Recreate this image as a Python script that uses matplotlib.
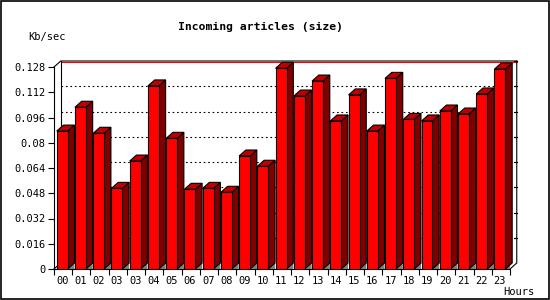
import numpy as np
import matplotlib
matplotlib.use("Agg")
from matplotlib import pyplot as plt
from matplotlib.patches import Polygon, Rectangle

hours = ["00", "01", "02", "03", "03", "04", "05", "06", "07", "08", "09", "10",
         "11", "12", "13", "14", "15", "16", "17", "18", "19", "20", "21", "22", "23"]
kbsec = [0.0874, 0.1025, 0.0860, 0.0511, 0.0684, 0.1160, 0.0828, 0.0505, 0.0511,
         0.0486, 0.0716, 0.0651, 0.1272, 0.1096, 0.1191, 0.0938, 0.1103, 0.0874,
         0.1208, 0.0948, 0.0938, 0.1001, 0.0982, 0.1109, 0.1267]
yticks = [0, 0.016, 0.032, 0.048, 0.064, 0.08, 0.096, 0.112, 0.128]
ytick_labels = ["0", "0.016", "0.032", "0.048", "0.064", "0.08", "0.096", "0.112", "0.128"]

mono = "DejaVu Sans Mono"
front, side, top = "#ff0000", "#800000", "#c00000"

fig = plt.figure(figsize=(5.5, 3), dpi=100)
ax = fig.add_axes([54/550, 31/300, 456/550, 202/300])
x = np.arange(len(hours))
xmin, xmax = -0.45, len(hours) - 0.45
ymax = 0.128
w = 0.6
dx, dy = 0.37, 0.0038   # depth of the fake 3d effect, data units

ax.set_xlim(xmin, xmax)
ax.set_ylim(0, ymax)

# back wall grid
for v in yticks[1:-1]:
    ax.plot([xmin + dx, xmax + dx], [v + dy, v + dy], color="black", lw=0.8,
            linestyle=(0, (1.5, 2.5)), clip_on=False, zorder=1)
# back wall frame
ax.plot([xmin + dx, xmax + dx], [ymax + dy - 0.0008, ymax + dy - 0.0008], color="red",
        lw=0.8, clip_on=False, zorder=1)
ax.plot([xmin, xmin + dx, xmax + dx], [ymax, ymax + dy, ymax + dy], color="black",
        lw=0.8, clip_on=False, zorder=1.5)
ax.plot([xmin + dx, xmin + dx], [dy, ymax + dy], color="black", lw=0.8,
        clip_on=False, zorder=1)
ax.plot([xmax, xmax + dx, xmax + dx], [0, dy, ymax + dy], color="black", lw=0.8,
        clip_on=False, zorder=1)
ax.plot([xmin, xmin + dx], [0, dy], color="black", lw=0.8, clip_on=False, zorder=1)
for v in yticks[1:]:
    ax.plot([xmax + dx - 0.15, xmax + dx], [v + dy, v + dy], color="black", lw=0.8,
            clip_on=False, zorder=1)

ax.bar(x, kbsec, width=w, color=front, edgecolor="black", lw=0.8, zorder=3)
for xi, h in zip(x, kbsec):
    r = xi + w / 2
    l = xi - w / 2
    ax.add_patch(Polygon([(r, 0), (r + dx, dy), (r + dx, 0)], closed=True,
                         facecolor="#808080", edgecolor="none", zorder=2))
    ax.add_patch(Polygon([(r, 0), (r + dx, dy), (r + dx, h + dy), (r, h)], closed=True,
                         facecolor=side, edgecolor="black", lw=0.8, zorder=2,
                         clip_on=False))
    ax.add_patch(Polygon([(l, h), (l + dx, h + dy), (r + dx, h + dy), (r, h)], closed=True,
                         facecolor=top, edgecolor="black", lw=0.8, zorder=2,
                         clip_on=False))

for s in ["top", "right"]:
    ax.spines[s].set_visible(False)
for s in ["left", "bottom"]:
    ax.spines[s].set_linewidth(0.8)

ax.set_yticks(yticks)
ax.set_yticklabels(ytick_labels, fontfamily=mono, fontsize=7.5)
ax.set_xticks(x)
ax.set_xticklabels(hours, fontfamily=mono, fontsize=7.5)
ax.set_xticks(np.arange(len(hours) + 1) + xmin, minor=True)
ax.tick_params(axis="x", which="major", length=0, pad=5)
ax.tick_params(axis="x", which="minor", length=4, width=0.8)
ax.tick_params(axis="y", length=4, width=0.8, pad=2)

fig.text(261/550, 1 - 27/300, "Incoming articles (size)", ha="center", va="center",
         fontfamily=mono, fontweight="bold", fontsize=8.2)
fig.text(28/550, 1 - 37/300, "Kb/sec", ha="left", va="center", fontfamily=mono, fontsize=7.5)
fig.text(534/550, 1 - 292/300, "Hours", ha="right", va="center", fontfamily=mono, fontsize=7.5)
fig.add_artist(Rectangle((0.001, 0.002), 0.997, 0.995, transform=fig.transFigure,
                         fill=False, edgecolor="black", lw=1.2))

fig.savefig("out.png", dpi=100)
